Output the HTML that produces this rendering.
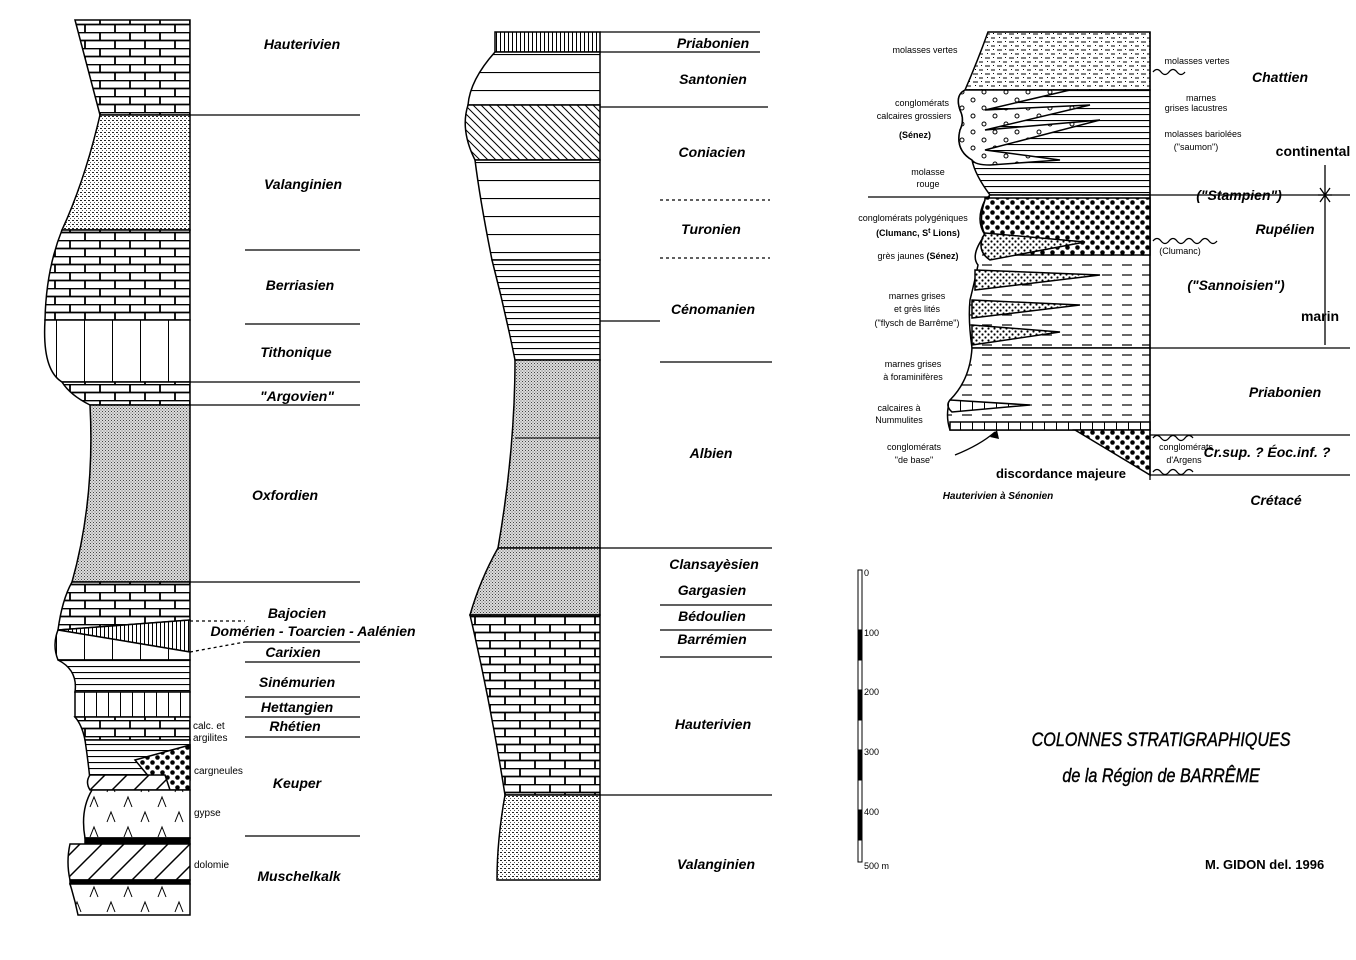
<!DOCTYPE html>
<html><head><meta charset="utf-8"><style>
html,body{margin:0;padding:0;background:#fff;}
svg{display:block;}
text{font-family:"Liberation Sans",sans-serif;fill:#000;}
.st{font-size:14px;font-weight:bold;font-style:italic;}
.sm{font-size:10px;}
</style></head><body>
<svg width="1356" height="960" viewBox="0 0 1356 960" xmlns="http://www.w3.org/2000/svg">
<defs>
<pattern id="brick" width="30" height="16" patternUnits="userSpaceOnUse">
<rect width="30" height="16" fill="#fff"/>
<path d="M0 0.5H30M0 8.5H30M10 0V8M25 8V16" stroke="#000" stroke-width="1.8"/>
</pattern>
<pattern id="stip" width="3" height="3" patternUnits="userSpaceOnUse">
<rect width="3" height="3" fill="#ddd"/><rect width="1" height="1" fill="#444"/><rect x="1.5" y="1.5" width="1" height="1" fill="#666"/>
</pattern>
<pattern id="marl" width="4" height="4" patternUnits="userSpaceOnUse">
<rect width="4" height="4" fill="#fff"/><rect width="2" height="1" fill="#222"/><rect x="2" y="2" width="1" height="1" fill="#555"/>
</pattern>
<pattern id="hl" width="10" height="6" patternUnits="userSpaceOnUse">
<rect width="10" height="6" fill="#fff"/><path d="M0 0.5H10" stroke="#000" stroke-width="1.2"/>
</pattern>
<pattern id="hlw" width="10" height="18" patternUnits="userSpaceOnUse">
<rect width="10" height="18" fill="#fff"/><path d="M0 0.5H10" stroke="#000" stroke-width="1.2"/>
</pattern>
<pattern id="vl" width="12" height="10" patternUnits="userSpaceOnUse">
<rect width="12" height="10" fill="#fff"/><path d="M0.5 0V10" stroke="#000"/>
</pattern>
<pattern id="vlw" width="28" height="10" patternUnits="userSpaceOnUse">
<rect width="28" height="10" fill="#fff"/><path d="M0.5 0V10" stroke="#000"/>
</pattern>
<pattern id="vld" width="4" height="10" patternUnits="userSpaceOnUse">
<rect width="4" height="10" fill="#fff"/><path d="M0.5 0V10" stroke="#000"/>
</pattern>
<pattern id="diag" width="22" height="22" patternUnits="userSpaceOnUse">
<rect width="22" height="22" fill="#fff"/><path d="M0 22L22 0M-5 5L5 -5M17 27L27 17" stroke="#000" stroke-width="1.5"/>
</pattern>
<pattern id="dhatch" width="8" height="8" patternUnits="userSpaceOnUse">
<rect width="8" height="8" fill="#fff"/><path d="M0 0L8 8M-2 6L2 10M6 -2L10 2" stroke="#000"/>
</pattern>
<pattern id="gyp" width="34" height="30" patternUnits="userSpaceOnUse">
<rect width="34" height="30" fill="#fff"/><path d="M5 12L9 2L13 12M22 27L26 17L30 27" stroke="#000" fill="none"/>
</pattern>
<pattern id="bdots" width="10" height="10" patternUnits="userSpaceOnUse">
<rect width="10" height="10" fill="#fff"/><circle cx="2.5" cy="2.5" r="2.3"/><circle cx="7.5" cy="7.5" r="2.3"/>
</pattern>
<pattern id="fdots" width="6" height="6" patternUnits="userSpaceOnUse">
<rect width="6" height="6" fill="#fff"/><circle cx="1.5" cy="1.5" r="1.1"/><circle cx="4.5" cy="4.5" r="1.1"/>
</pattern>
<pattern id="dash" width="20" height="10" patternUnits="userSpaceOnUse">
<rect width="20" height="10" fill="#fff"/><path d="M2 5H12" stroke="#000" stroke-width="1.2"/>
</pattern>
<pattern id="ovals" width="22" height="16" patternUnits="userSpaceOnUse">
<rect width="22" height="16" fill="#fff"/><circle cx="5" cy="4" r="2" fill="none" stroke="#000"/><circle cx="16" cy="12" r="2" fill="none" stroke="#000"/>
</pattern>
<pattern id="molv" width="12" height="8" patternUnits="userSpaceOnUse">
<rect width="12" height="8" fill="#fff"/><path d="M1 2H6M7 6H11" stroke="#000"/><rect x="9" y="1" width="1" height="1"/><rect x="3" y="5" width="1" height="1"/>
</pattern>
</defs>

<!-- LEFT COLUMN -->
<g stroke="#000" stroke-width="1.5">
<path d="M75 20 L190 20 L190 115 L100 115 Q88 70 75 20Z" fill="url(#brick)"/>
<path d="M100 115 L190 115 L190 230 L62 230 Q85 180 100 115Z" fill="url(#marl)"/>
<path d="M62 230 L190 230 L190 320 L45 320 Q46 270 62 230Z" fill="url(#brick)"/>
<path d="M45 320 L190 320 L190 382 L62 382 Q42 370 45 320Z" fill="url(#vlw)"/>
<path d="M62 382 L190 382 L190 405 L90 405 Q70 395 62 382Z" fill="url(#brick)"/>
<path d="M90 405 L190 405 L190 582 L72 582 Q95 500 90 405Z" fill="url(#stip)"/>
<path d="M72 582 L190 582 L190 620 L58 630 Q62 600 72 582Z" fill="url(#brick)"/>
<path d="M58 630 L190 620 L190 652Z" fill="url(#vld)"/>
<path d="M58 630 L190 652 L190 660 L58 660 Q52 645 58 630Z" fill="url(#vlw)"/>
<path d="M58 660 L190 660 L190 692 L75 692 Q78 670 58 660Z" fill="url(#hl)"/>
<path d="M75 692 L190 692 L190 717 L75 717Z" fill="url(#vl)"/>
<path d="M75 717 L190 717 L190 740 L85 740 Q82 725 75 717Z" fill="url(#brick)"/>
<path d="M85 740 L190 740 L190 780 L90 780 Q88 760 85 740Z" fill="url(#hl)"/>
<path d="M135 760 L190 745 L190 790 L160 790Z" fill="url(#bdots)"/>
<path d="M90 775 L165 775 L170 790 L90 790 Q85 782 90 775Z" fill="url(#diag)"/>
<path d="M92 790 L190 790 L190 838 L85 838 Q80 810 92 790Z" fill="url(#gyp)"/>
<rect x="85" y="838" width="105" height="6" fill="#000"/>
<path d="M70 844 L190 844 L190 880 L70 880 Q66 862 70 844Z" fill="url(#diag)"/>
<rect x="70" y="880" width="120" height="4" fill="#000"/>
<path d="M70 884 L190 884 L190 915 L78 915 Q75 900 70 884Z" fill="url(#gyp)"/>
</g>
<g stroke="#000" stroke-width="1.3">
<path d="M190 115H360M245 250H360M245 324H360M190 382H360M190 405H360M190 582H360M245 642H360M245 662H360M245 697H360M245 717H360M245 737H360M245 836H360"/>
<path d="M190 621H245M190 652L245 642" stroke-dasharray="3,3"/>
</g>
<g class="st" text-anchor="middle">
<text x="302" y="49" class="st">Hauterivien</text>
<text x="303" y="189" class="st">Valanginien</text>
<text x="300" y="290" class="st">Berriasien</text>
<text x="296" y="357" class="st">Tithonique</text>
<text x="297" y="401" class="st">"Argovien"</text>
<text x="285" y="500" class="st">Oxfordien</text>
<text x="297" y="618" class="st">Bajocien</text>
<text x="313" y="636" class="st">Domérien - Toarcien - Aalénien</text>
<text x="293" y="657" class="st">Carixien</text>
<text x="297" y="687" class="st">Sinémurien</text>
<text x="297" y="712" class="st">Hettangien</text>
<text x="295" y="731" class="st">Rhétien</text>
<text x="297" y="788" class="st">Keuper</text>
<text x="299" y="881" class="st">Muschelkalk</text>
</g>
<g class="sm">
<text x="193" y="729">calc. et</text><text x="193" y="741">argilites</text>
<text x="194" y="774">cargneules</text>
<text x="194" y="816">gypse</text>
<text x="194" y="868">dolomie</text>
</g>

<!-- MIDDLE COLUMN -->
<g stroke="#000" stroke-width="1.5">
<rect x="495" y="32" width="105" height="20" fill="url(#vld)"/>
<path d="M495 52 L600 52 L600 105 L468 105 Q470 80 495 52Z" fill="url(#hlw)"/>
<path d="M468 105 L600 105 L600 160 L475 160 Q460 130 468 105Z" fill="url(#dhatch)"/>
<path d="M475 160 L600 160 L600 260 L492 260 Q480 200 475 160Z" fill="url(#hlw)"/>
<path d="M492 260 L600 260 L600 360 L515 360 Q505 310 492 260Z" fill="url(#hl)"/>
<path d="M515 360 L600 360 L600 548 L498 548 Q515 450 515 360Z" fill="url(#stip)"/>
<path d="M498 548 L600 548 L600 615 L470 615 Q480 580 498 548Z" fill="url(#stip)"/>
<path d="M470 615 L600 615 L600 795 L505 795 Q490 700 470 615Z" fill="url(#brick)"/>
<path d="M505 795 L600 795 L600 880 L497 880 Q497 840 505 795Z" fill="url(#marl)"/>
</g>
<g stroke="#000" stroke-width="1.3">
<path d="M600 32H760M600 52H760M600 107H768M600 321H660M660 362H772M600 548H772M660 605H772M660 630H772M660 657H772M600 795H772"/>
<path d="M660 200H770M660 258H770" stroke-dasharray="3,3"/>
<path d="M515 438H600" stroke-width="1"/>
</g>
<g class="st" text-anchor="middle">
<text x="713" y="48">Priabonien</text>
<text x="713" y="84">Santonien</text>
<text x="712" y="157">Coniacien</text>
<text x="711" y="234">Turonien</text>
<text x="713" y="314">Cénomanien</text>
<text x="711" y="458">Albien</text>
<text x="714" y="569">Clansayèsien</text>
<text x="712" y="595">Gargasien</text>
<text x="712" y="621">Bédoulien</text>
<text x="712" y="644">Barrémien</text>
<text x="713" y="729">Hauterivien</text>
<text x="716" y="869">Valanginien</text>
</g>

<!-- RIGHT COLUMN -->
<g stroke="#000" stroke-width="1.5">
<path d="M988 32 L1150 32 L1150 90 L965 90 Q978 60 988 32Z" fill="url(#molv)"/>
<path d="M965 90 L1150 90 L1150 195 L990 195 Q975 175 972 160 Q955 150 960 130 Q965 120 960 110 Q955 95 965 90Z" fill="url(#hl)"/>
<path d="M965 90 L1070 90 L985 110 L1090 105 L985 130 L1100 120 L985 150 L1060 160 L990 165 Q975 165 972 160 Q955 150 960 130 Q965 120 960 110 Q955 95 965 90Z" fill="url(#ovals)"/>
<path d="M990 195 L1150 195 L1150 348 L972 348 Q968 320 970 300 Q975 280 978 265 Q970 255 985 235 Q975 220 985 200Z" fill="url(#dash)"/>
<path d="M985 198 L1150 198 L1150 255 L1060 255 L1000 255 Q975 240 985 235 Q978 220 985 200Z" fill="url(#bdots)"/>
<path d="M985 233 L1085 242 L990 260 Q975 250 985 233Z" fill="url(#fdots)"/>
<path d="M975 270 L1100 275 L975 290Z M972 300 L1080 305 L972 318Z M972 325 L1060 332 L972 345Z" fill="url(#fdots)"/>
<path d="M972 348 L1150 348 L1150 430 L950 430 Q945 415 950 400 Q970 380 972 348Z" fill="url(#dash)"/>
<path d="M950 400 L1030 405 L952 412 Q945 406 950 400Z" fill="url(#vl)"/>
<path d="M950 422 L1150 422 L1150 430 L950 430Z" fill="url(#vl)"/>
<path d="M1075 430 L1150 430 L1150 475Z" fill="url(#bdots)"/>
</g>
<g stroke="#000" stroke-width="1.3" fill="none">
<path d="M1150 32V480"/>
<path d="M868 197H990M1150 195H1350M1150 348H1350M1150 435H1350M1150 475H1350"/>
<path d="M1325 165V345M1320 188L1325 195L1330 188M1320 202L1325 195L1330 202M1318 195H1332"/>
<path d="M955 455 Q980 445 995 432"/>
<path d="M1153 72 q4 -5 8 0 t8 0 t8 0 t8 0 M1153 241 q4 -5 8 0 t8 0 t8 0 t8 0 t8 0 t8 0 t8 0 t8 0 M1153 438 q4 -5 8 0 t8 0 t8 0 t8 0 t8 0 M1153 472 q4 -5 8 0 t8 0 t8 0 t8 0 t8 0"/>
</g>
<path d="M990 437 L997 430 L999 439Z" fill="#000"/>
<g class="sm" text-anchor="middle" font-size="9">
<text x="925" y="53" font-size="9">molasses vertes</text>
<text x="922" y="106" font-size="9">conglomérats</text>
<text x="914" y="119" font-size="9">calcaires grossiers</text>
<text x="915" y="138" font-size="9" font-weight="bold">(Sénez)</text>
<text x="928" y="175" font-size="9">molasse</text><text x="928" y="187" font-size="9">rouge</text>
<text x="913" y="221" font-size="9">conglomérats polygéniques</text>
<text x="918" y="236" font-size="9" font-weight="bold">(Clumanc, S<tspan font-size="7" dy="-3">t</tspan><tspan dy="3"> Lions)</tspan></text>
<text x="918" y="259" font-size="9">grès jaunes <tspan font-weight="bold">(Sénez)</tspan></text>
<text x="917" y="299" font-size="9">marnes grises</text>
<text x="917" y="312" font-size="9">et grès lités</text>
<text x="917" y="326" font-size="9">("flysch de Barrême")</text>
<text x="913" y="367" font-size="9">marnes grises</text>
<text x="913" y="380" font-size="9">à foraminifères</text>
<text x="899" y="411" font-size="9">calcaires à</text>
<text x="899" y="423" font-size="9">Nummulites</text>
<text x="914" y="450" font-size="9">conglomérats</text>
<text x="914" y="463" font-size="9">"de base"</text>
<text x="1197" y="64" font-size="9">molasses vertes</text>
<text x="1201" y="101" font-size="9">marnes</text>
<text x="1196" y="111" font-size="9">grises lacustres</text>
<text x="1203" y="137" font-size="9">molasses bariolées</text>
<text x="1196" y="150" font-size="9">("saumon")</text>
<text x="1180" y="254" font-size="9">(Clumanc)</text>
<text x="1186" y="450" font-size="9">conglomérats</text>
<text x="1184" y="463" font-size="9">d'Argens</text>
</g>
<text x="1061" y="478" font-size="13" font-weight="bold" text-anchor="middle">discordance majeure</text>
<text x="998" y="499" font-size="10" font-weight="bold" font-style="italic" text-anchor="middle">Hauterivien à Sénonien</text>
<g class="st" text-anchor="middle">
<text x="1280" y="82">Chattien</text>
<text x="1313" y="156" font-style="normal">continental</text>
<text x="1239" y="200">("Stampien")</text>
<text x="1285" y="234">Rupélien</text>
<text x="1236" y="290">("Sannoisien")</text>
<text x="1320" y="321" font-style="normal">marin</text>
<text x="1285" y="397">Priabonien</text>
<text x="1267" y="457">Cr.sup. ? Éoc.inf. ?</text>
<text x="1276" y="505">Crétacé</text>
</g>

<!-- SCALE -->
<g stroke="#000">
<rect x="858" y="570" width="4" height="292" fill="#fff"/>
<rect x="858" y="630" width="4" height="30" fill="#000"/>
<rect x="858" y="690" width="4" height="30" fill="#000"/>
<rect x="858" y="750" width="4" height="30" fill="#000"/>
<rect x="858" y="810" width="4" height="30" fill="#000"/>
</g>
<g font-size="9">
<text x="864" y="576">0</text><text x="864" y="636">100</text><text x="864" y="695">200</text>
<text x="864" y="755">300</text><text x="864" y="815">400</text><text x="864" y="869">500 m</text>
</g>
<g font-style="italic" font-size="19" text-anchor="middle" transform="scale(0.85,1)" stroke="#000" stroke-width="0.4">
<text x="1366" y="746">COLONNES STRATIGRAPHIQUES</text>
<text x="1366" y="782">de la Région de BARRÊME</text>
</g>
<text x="1205" y="869" font-size="13" font-weight="bold">M. GIDON  del.  1996</text>
</svg>
</body></html>
